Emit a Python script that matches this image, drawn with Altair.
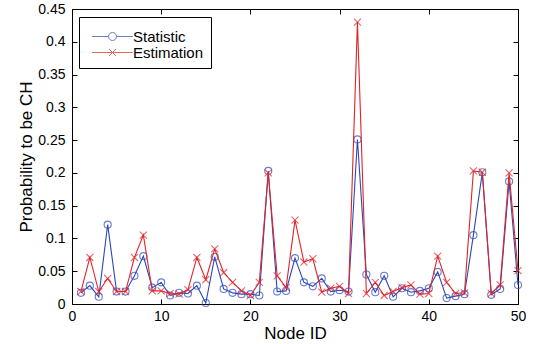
import altair as alt
import pandas as pd

nodes = list(range(1, 51))
statistic = [0.017, 0.028, 0.011, 0.121, 0.019, 0.019, 0.043, 0.073, 0.025, 0.033,
             0.013, 0.017, 0.016, 0.028, 0.0015, 0.072, 0.023, 0.017, 0.015, 0.015,
             0.013, 0.203, 0.019, 0.020, 0.070, 0.033, 0.027, 0.039, 0.019, 0.021,
             0.019, 0.251, 0.045, 0.018, 0.043, 0.011, 0.024, 0.018, 0.020, 0.024,
             0.049, 0.009, 0.012, 0.015, 0.105, 0.201, 0.014, 0.023, 0.187, 0.029]
estimation = [0.019, 0.071, 0.019, 0.039, 0.019, 0.019, 0.071, 0.105, 0.020, 0.020,
              0.016, 0.015, 0.022, 0.071, 0.037, 0.084, 0.048, 0.033, 0.020, 0.013,
              0.033, 0.200, 0.043, 0.025, 0.128, 0.064, 0.069, 0.018, 0.024, 0.027,
              0.016, 0.430, 0.016, 0.033, 0.013, 0.019, 0.025, 0.029, 0.015, 0.016,
              0.073, 0.033, 0.016, 0.017, 0.203, 0.201, 0.016, 0.029, 0.200, 0.051]
series_names = ["Statistic", "Estimation"]
colors = ["#2A48BA", "#E02428"]
x_ticks = [0, 10, 20, 30, 40, 50]
y_ticks = [0, 0.05, 0.1, 0.15, 0.2, 0.25, 0.3, 0.35, 0.4, 0.45]

df = pd.DataFrame({
    "node": nodes + nodes,
    "value": statistic + estimation,
    "series": [series_names[0]] * len(nodes) + [series_names[1]] * len(nodes),
})

FONT = "Liberation Sans"
xs = alt.Scale(domain=[0, 50], nice=False, zero=False)
ys = alt.Scale(domain=[0, 0.45], nice=False)
cs = alt.Scale(domain=series_names, range=colors)

x_bottom = alt.Axis(orient="bottom", values=x_ticks, offset=-5, tickSize=5, domain=False,
                    grid=False, labelFontSize=14, labelPadding=5, labelFlush=False,
                    title="Node ID", titleFontSize=17, titlePadding=2)
y_left = alt.Axis(orient="left", values=y_ticks, offset=-5, tickSize=5, domain=False,
                  grid=False, labelFontSize=14, labelPadding=7, labelFlush=False, format="~g",
                  title="Probability to be CH", titleFontSize=17, titlePadding=2)
x_top = alt.Axis(orient="top", values=x_ticks, offset=-5, tickSize=5, domain=False,
                 grid=False, labels=False, title="")
y_right = alt.Axis(orient="right", values=y_ticks, offset=-5, tickSize=5, domain=False,
                   grid=False, labels=False, title="")

leg_circle = "M-5.1,0L-1,0M1,0L5.1,0M-1,0A1,1,0,1,1,1,0A1,1,0,1,1,-1,0"
leg_cross = "M-5.1,0L5.1,0M-0.9,-0.9L0.9,0.9M-0.9,0.9L0.9,-0.9"
xmark = "M-1,-1L1,1M-1,1L1,-1"

leg = alt.Legend(title=" ", titleFontSize=2, titlePadding=3, titleFont=FONT,
                 orient="none", legendX=7, legendY=8, fillColor="white",
                 strokeColor="black", padding=7, symbolSize=64, symbolOffset=19,
                 labelOffset=13, labelFontSize=15, labelFont=FONT, labelColor="black",
                 rowPadding=0, symbolStrokeWidth=1, symbolFillColor="transparent")

legend_layer = alt.Chart(df).transform_filter("datum.node < 0").mark_point(
    filled=False, strokeWidth=1
).encode(
    x=alt.X("node:Q", scale=xs, axis=None),
    y=alt.Y("value:Q", scale=ys, axis=None),
    color=alt.Color("series:N", scale=cs, legend=leg),
    shape=alt.Shape("series:N", scale=alt.Scale(domain=series_names, range=[leg_circle, leg_cross]), legend=leg),
)

stat = alt.Chart(df).transform_filter(alt.datum.series == "Statistic")
est = alt.Chart(df).transform_filter(alt.datum.series == "Estimation")

line_s = stat.mark_line(strokeWidth=1.1).encode(
    x=alt.X("node:Q", scale=xs, axis=x_bottom),
    y=alt.Y("value:Q", scale=ys, axis=y_left),
    color=alt.Color("series:N", scale=cs),
)
pts_s = stat.mark_point(shape="circle", filled=False, size=50, strokeWidth=1.1).encode(
    x=alt.X("node:Q", scale=xs, axis=x_top),
    y=alt.Y("value:Q", scale=ys, axis=y_right),
    color=alt.Color("series:N", scale=cs),
)
line_e = est.mark_line(strokeWidth=1.1).encode(
    x=alt.X("node:Q", scale=xs, axis=None),
    y=alt.Y("value:Q", scale=ys, axis=None),
    color=alt.Color("series:N", scale=cs),
)
pts_e = est.mark_point(shape=xmark, filled=False, size=50, strokeWidth=1.1).encode(
    x=alt.X("node:Q", scale=xs, axis=None),
    y=alt.Y("value:Q", scale=ys, axis=None),
    color=alt.Color("series:N", scale=cs),
)

chart = alt.layer(legend_layer, line_s, pts_s, line_e, pts_e).resolve_axis(
    x="independent", y="independent"
).properties(
    width=446, height=295,
    padding={"left": 72, "top": 9, "right": 17, "bottom": 40},
    autosize=alt.AutoSizeParams(type="none"),
    background="white",
).configure_view(
    stroke="black", strokeWidth=1
).configure_axis(
    labelFont=FONT, titleFont=FONT, labelColor="black", titleColor="black",
    tickColor="black", titleFontWeight="normal", tickWidth=1
)

chart.save("out.html", embed_options={"renderer": "svg", "actions": False})
